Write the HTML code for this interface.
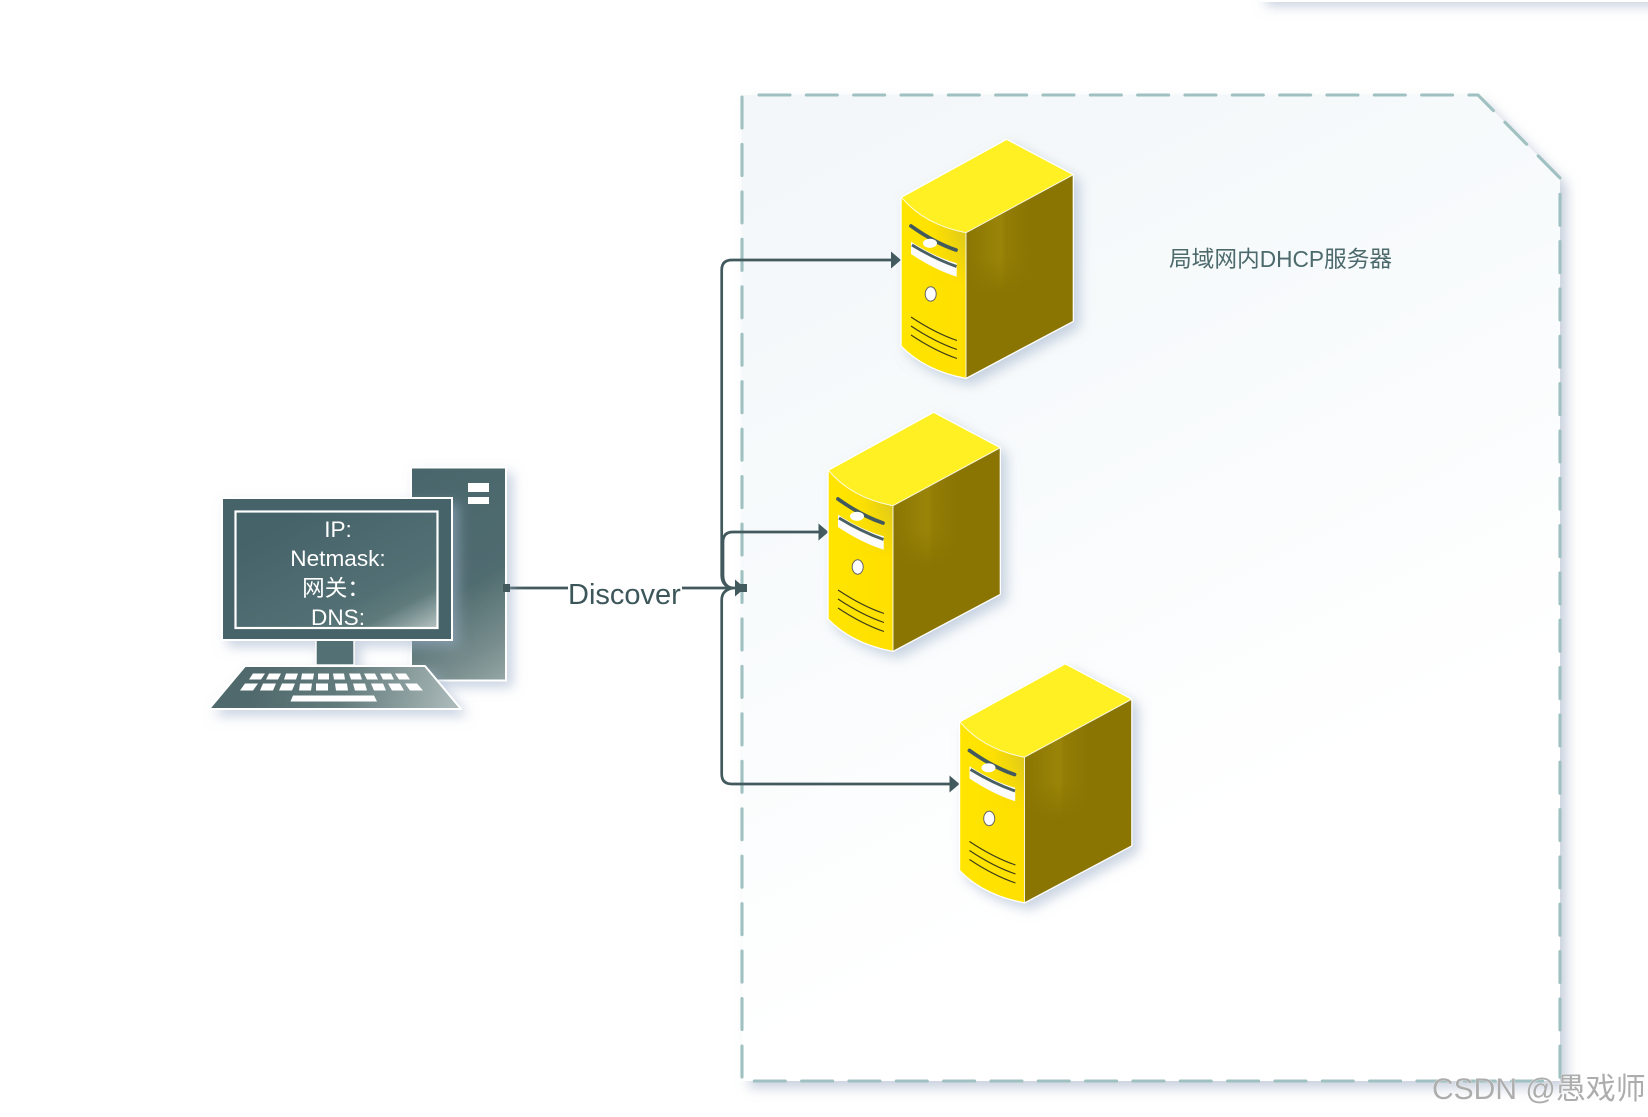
<!DOCTYPE html>
<html><head><meta charset="utf-8"><style>
html,body{margin:0;padding:0;background:#fff;width:1648px;height:1117px;overflow:hidden}
svg{display:block;filter:blur(.35px)}
text{font-family:"Liberation Sans","Noto Sans CJK SC",sans-serif}
</style></head><body>
<svg width="1648" height="1117" viewBox="0 0 1648 1117" xmlns="http://www.w3.org/2000/svg">
<defs>
<linearGradient id="fr" gradientUnits="userSpaceOnUse" x1="900" y1="95" x2="1260" y2="800"><stop offset="0" stop-color="#f3f7f9"/><stop offset=".5" stop-color="#f8fbfc"/><stop offset="1" stop-color="#ffffff"/></linearGradient>
<linearGradient id="pc" gradientUnits="userSpaceOnUse" x1="300" y1="450" x2="480" y2="730"><stop offset="0" stop-color="#45626a"/><stop offset=".62" stop-color="#506c6f"/><stop offset=".82" stop-color="#7b9090"/><stop offset="1" stop-color="#abbaba"/></linearGradient>
<linearGradient id="scr" gradientUnits="userSpaceOnUse" x1="330" y1="500" x2="410" y2="650"><stop offset="0" stop-color="#46636a"/><stop offset=".6" stop-color="#527074"/><stop offset=".75" stop-color="#5f7a7b"/><stop offset="1" stop-color="#c4cfcd"/></linearGradient>
<linearGradient id="kb" gradientUnits="userSpaceOnUse" x1="260" y1="660" x2="450" y2="715"><stop offset="0" stop-color="#50696c"/><stop offset=".45" stop-color="#637c7d"/><stop offset="1" stop-color="#aab8b8"/></linearGradient>
<linearGradient id="front" gradientUnits="userSpaceOnUse" x1="902" y1="0" x2="966" y2="0"><stop offset="0" stop-color="#ffe500"/><stop offset="1" stop-color="#ffdf00"/></linearGradient>
<linearGradient id="fglow" gradientUnits="userSpaceOnUse" x1="930" y1="240" x2="966" y2="240"><stop offset="0" stop-color="#e6cf14" stop-opacity="0"/><stop offset="1" stop-color="#d8c520" stop-opacity=".9"/></linearGradient>
<linearGradient id="rband" gradientUnits="userSpaceOnUse" x1="966" y1="0" x2="1030" y2="0"><stop offset="0" stop-color="#8a7503"/><stop offset=".55" stop-color="#9b8508"/><stop offset=".62" stop-color="#937d05"/><stop offset="1" stop-color="#8a7503"/></linearGradient>
<linearGradient id="rmg" gradientUnits="userSpaceOnUse" x1="0" y1="220" x2="0" y2="295"><stop offset="0" stop-color="#fff"/><stop offset=".5" stop-color="#fff"/><stop offset="1" stop-color="#000"/></linearGradient>
<linearGradient id="fmg" gradientUnits="userSpaceOnUse" x1="0" y1="232" x2="0" y2="285"><stop offset="0" stop-color="#fff"/><stop offset="1" stop-color="#000"/></linearGradient>
<mask id="rm" maskUnits="userSpaceOnUse" x="960" y="190" width="80" height="130"><rect x="960" y="190" width="80" height="130" fill="url(#rmg)"/></mask>
<mask id="fm" maskUnits="userSpaceOnUse" x="925" y="210" width="45" height="90"><rect x="925" y="210" width="45" height="90" fill="url(#fmg)"/></mask>
<filter id="sh" x="-20%" y="-20%" width="150%" height="150%"><feDropShadow dx="6" dy="6" stdDeviation="6" flood-color="#9fb0cb" flood-opacity=".55"/></filter>
<filter id="shf" x="-5%" y="-5%" width="110%" height="110%"><feDropShadow dx="7" dy="7" stdDeviation="6" flood-color="#a4b1c8" flood-opacity=".6"/></filter>
<filter id="sht" x="-10%" y="-50%" width="120%" height="250%"><feDropShadow dx="6" dy="4" stdDeviation="6" flood-color="#a4b1c8" flood-opacity=".6"/></filter>
<g id="srv">
<g filter="url(#sh)">
<path d="M1006.7,140 L1072.7,175 V321 L966,377.7 Q925,370 901.7,345.7 V197.7 Z" fill="#fff" stroke="#fff" stroke-width="2.6" stroke-linejoin="round"/>
</g>
<path d="M1006.7,140 L1072.7,175 L966,232.7 Q925,225 901.7,197.7 Z" fill="#fff024"/>
<path d="M901.7,197.7 Q925,225 966,232.7 V377.7 Q925,370 901.7,345.7 Z" fill="url(#front)"/>
<path d="M930,220 Q948,229 966,232.7 V290 H930 Z" fill="url(#fglow)" mask="url(#fm)"/>
<path d="M966,232.7 L1072.7,175 V321 L966,377.7 Z" fill="#8a7503"/>
<path d="M966,232.7 L1030,198 V320 H966 Z" fill="url(#rband)" mask="url(#rm)"/>
<path d="M901.7,197.7 Q925,225 966,232.7 L1072.7,175 M966,232.7 V377.7" fill="none" stroke="#fff" stroke-width="1" stroke-opacity=".85"/>
<path d="M911,226 Q935,243 956,250" fill="none" stroke="#42595e" stroke-width="3.8" stroke-linecap="round"/>
<ellipse cx="930" cy="243.3" rx="7" ry="4.6" fill="#fff"/>
<path d="M911,241.7 Q935,257 956.7,263.3 V276.7 Q935,270 911,254 Z" fill="#fbfcfb"/>
<path d="M912,245 Q935,259 956.5,266.5" fill="none" stroke="#4a6064" stroke-width="2.8"/>
<ellipse cx="930.7" cy="294" rx="5.5" ry="7.2" fill="#fff" stroke="#666" stroke-width="1"/>
<g fill="none" stroke="#3b3a1c" stroke-width="1.1">
<path d="M911,317 Q935,333 957,340.5"/>
<path d="M911,326 Q935,342 957,349.5"/>
<path d="M911,335 Q935,351 957,358.5"/>
</g>
</g>
</defs>

<rect width="1648" height="1117" fill="#fff"/>
<rect x="1260" y="-40" width="450" height="42" fill="#fff" filter="url(#sht)"/>

<path d="M742,95 H1478 L1560,178 V1081 H742 Z" fill="url(#fr)" filter="url(#shf)"/>
<g fill="none" stroke="#a0c1c1" stroke-width="3.1" stroke-linecap="round">
<path d="M759,95 H1478 L1560,178 V1081" stroke-dasharray="31 16.33"/>
<path d="M742,97 V1078" stroke-dasharray="31 16.45"/>
<path d="M754.3,1081 H1548" stroke-dasharray="31 16.33"/>
</g>

<text x="1169" y="267" font-size="22.7" fill="#4c6a6c">局域网内DHCP服务器</text>

<!-- connectors -->
<g fill="none" stroke="#42595e" stroke-width="2.7">
<path d="M510,588 H568 M682,588 H738"/>
<path d="M732,588 Q721.7,586 721.7,575 V270 Q721.7,260 732,260 H892"/>
<path d="M732,588 Q723,586 723,575 V542 Q723,532 733,532 H820"/>
<path d="M733,588 Q721.7,590 721.7,600 V774 Q721.7,784 732,784 H951"/>
</g>
<path d="M901,260 L891,251.5 V268.5 Z" fill="#42595e"/>
<path d="M828.5,532 L818.5,523.5 V540.5 Z" fill="#42595e"/>
<path d="M959.5,784 L949.5,775.5 V792.5 Z" fill="#42595e"/>
<path d="M745,588 L735,579.5 V596.5 Z" fill="#42595e"/>
<rect x="740" y="584" width="7" height="8" fill="#42595e"/>
<text x="568" y="604" font-size="29" fill="#3c565a">Discover</text>

<!-- servers -->
<use href="#srv"/>
<use href="#srv" transform="translate(-73,273)"/>
<use href="#srv" transform="translate(58.5,524.5)"/>

<!-- PC -->
<g filter="url(#sh)">
<rect x="411" y="467.5" width="95" height="213" fill="url(#pc)" stroke="#fff" stroke-width="2"/>
</g>
<rect x="468" y="483" width="21" height="9" fill="#fff"/>
<rect x="468" y="497" width="21" height="7" fill="#fff"/>
<rect x="503" y="584" width="7" height="8" fill="#42595e"/>
<g filter="url(#sh)">
<rect x="316" y="640" width="38" height="25" fill="#527074" stroke="#fff" stroke-width="1.4"/>
<rect x="222" y="498" width="230" height="142" fill="#46636a" stroke="#fff" stroke-width="2"/>
<path d="M245,666 H425 L461,709 H209 Z" fill="url(#kb)" stroke="#fff" stroke-width="2" stroke-linejoin="round"/>
</g>
<rect x="235.5" y="511.5" width="202" height="116.5" fill="url(#scr)" stroke="#fff" stroke-width="2.2"/>
<g fill="#fff" transform="translate(0,1.5)">
<path d="M253,672 h12 l-4,6 h-12z M269,672 h12 l-3,6 h-12z M286,672 h12 l-2,6 h-12z M302,672 h12 l-1,6 h-12z M318,672 h11 v6 h-11z M333,672 h11 l1,6 h-11z M349,672 h11 l2,6 h-11z M364,672 h11 l3,6 h-11z M380,672 h11 l3,6 h-11z M395,672 h11 l4,6 h-11z"/>
<path d="M245,682 h13 l-5,7 h-13z M263,682 h13 l-3,7 h-13z M282,682 h13 l-3,7 h-13z M300,682 h12 l-1,7 h-12z M316,682 h12 v7 h-12z M335,682 h12 l1,7 h-12z M353,682 h12 l2,7 h-12z M371,682 h12 l3,7 h-12z M388,682 h12 l4,7 h-12z M405,682 h12 l6,7 h-13z"/>
<path d="M293,694 H374 L377,700 H290.5 Z"/>
</g>
<g fill="#fff" font-size="22.6" text-anchor="middle">
<text x="338" y="537">IP:</text>
<text x="338" y="566">Netmask:</text>
<text x="336" y="596">网关：</text>
<text x="338" y="625">DNS:</text>
</g>

<text x="1432" y="1099" font-size="30" fill="#adadad" stroke="#fff" stroke-width=".5" style="paint-order:stroke">CSDN @愚戏师</text>
</svg>
</body></html>
